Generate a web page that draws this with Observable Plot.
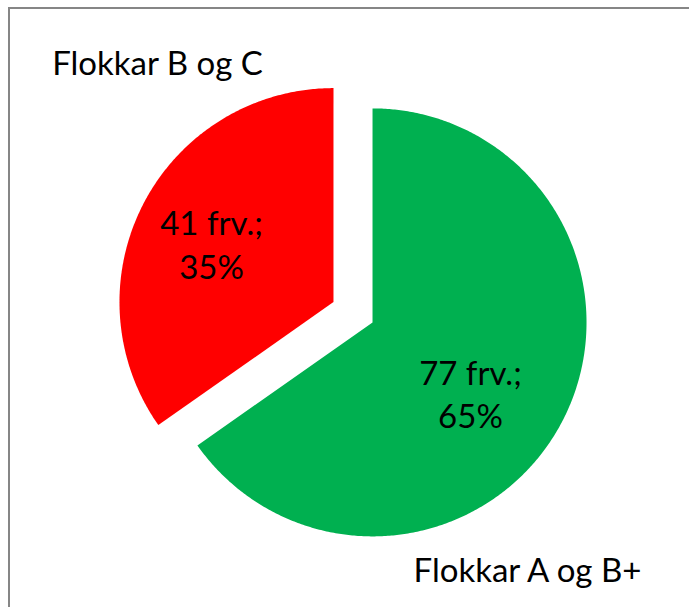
<!DOCTYPE html>
<html><head><meta charset="utf-8">
<script src="https://cdn.jsdelivr.net/npm/d3@7"></script>
<script src="https://cdn.jsdelivr.net/npm/@observablehq/plot@0.6"></script>
<style>
body{margin:0;background:#fff;}
#wrap{position:relative;width:689px;height:607px;overflow:hidden;}
#wrap svg{position:absolute;left:0;top:0;}
#border{position:absolute;left:7.5px;top:7px;width:720px;height:720px;border-left:2px solid #868686;border-top:2px solid #868686;z-index:2;}
</style></head><body><div id="wrap"><div id="border"></div></div>
<script>
const categories = ["Flokkar A og B+", "Flokkar B og C"];
const counts = [77, 41];
const colors = ["#00B050", "#FF0000"];

const W = 689, H = 607, CX = 352.5, CY = 311.75, R = 214, EXPLODE = 22 / 214, FS = 33;
const total = d3.sum(counts);
const arcs = d3.pie().sort(null).value(d => d)(counts);
const slices = arcs.map((p, i) => {
  const mid = (p.startAngle + p.endAngle) / 2;
  return {
    name: categories[i], value: p.value, start: p.startAngle, end: p.endAngle, mid,
    ox: EXPLODE * Math.sin(mid), oy: EXPLODE * Math.cos(mid),
    label: `${p.value} frv.;\n${Math.round(100 * p.value / total)}%`
  };
});
function slicePoints(s) {
  const pts = [{x: s.ox, y: s.oy}];
  const n = Math.ceil((s.end - s.start) / (Math.PI / 360));
  for (let k = 0; k <= n; k++) {
    const a = s.start + (s.end - s.start) * k / n;
    pts.push({x: s.ox + Math.sin(a), y: s.oy + Math.cos(a)});
  }
  pts.push({x: s.ox, y: s.oy});
  return pts;
}
const lx = s => s.ox + 0.6 * Math.sin(s.mid);
const ly = s => s.oy + 0.6 * Math.cos(s.mid);

const chart = Plot.plot({
  width: W, height: H, margin: 0,
  x: {domain: [-CX / R, (W - CX) / R], axis: null},
  y: {domain: [-(H - CY) / R, CY / R], axis: null},
  style: {fontFamily: "Lato", background: "transparent", color: "#000"},
  marks: [
    ...slices.map((s, i) => Plot.line(slicePoints(s), {x: "x", y: "y", fill: colors[i], stroke: "none", curve: "linear"})),
    Plot.text([slices[0]], {x: lx, y: ly, text: "label", fontSize: FS, lineHeight: 1.32, dx: -16, dy: 11, fill: "#000"}),
    Plot.text([slices[1]], {x: lx, y: ly, text: "label", fontSize: FS, lineHeight: 1.32, dx: -8, dy: 0, fill: "#000"}),
    Plot.text([slices[1]], {text: "name", frameAnchor: "top-left", lineAnchor: "middle", textAnchor: "middle", dx: 157, dy: 63.5, fontSize: FS, fill: "#000"}),
    Plot.text([slices[0]], {text: "name", frameAnchor: "top-left", lineAnchor: "middle", textAnchor: "middle", dx: 527, dy: 570.5, fontSize: FS, fill: "#000"})
  ]
});
document.getElementById("wrap").appendChild(chart);
</script></body></html>
